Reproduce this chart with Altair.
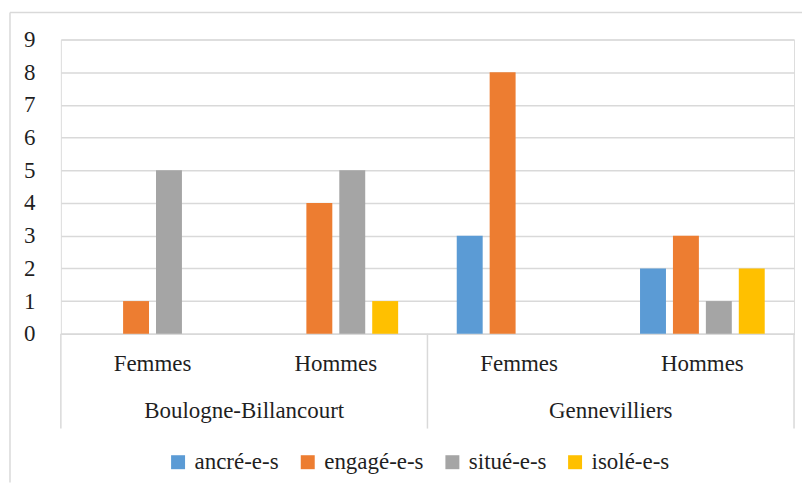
import altair as alt
import pandas as pd

# ---- data ----
cities = ["Boulogne-Billancourt", "Boulogne-Billancourt", "Gennevilliers", "Gennevilliers"]
genders = ["Femmes", "Hommes", "Femmes", "Hommes"]
series_names = ["ancré-e-s", "engagé-e-s", "situé-e-s", "isolé-e-s"]
ancre = [0, 0, 3, 2]
engage = [1, 4, 8, 3]
situe = [5, 5, 0, 1]
isole = [0, 1, 0, 2]
colors = ["#5B9BD5", "#ED7D31", "#A5A5A5", "#FFC000"]
y_ticks = list(range(10))

cats = [f"{c}|{g}" for c, g in zip(cities, genders)]
rows = []
for s, vals in zip(series_names, [ancre, engage, situe, isole]):
    for cat, v in zip(cats, vals):
        rows.append({"cat": cat, "serie": s, "value": v})
df = pd.DataFrame(rows)

W, H = 735, 295
FONT = "'Liberation Serif', serif"
FS = 23
TXT = "#1f1f1f"
LINE = "#D9D9D9"

xscale = alt.Scale(domain=cats, paddingInner=0, paddingOuter=0)

bars = alt.Chart(df).transform_filter("datum.value > 0").mark_bar().encode(
    x=alt.X("cat:N", scale=xscale, title=None,
            axis=alt.Axis(labelExpr="split(datum.value, '|')[1]", labelAngle=0,
                          labelBaseline="middle", labelPadding=30, ticks=False,
                          tickSize=0, domainColor=LINE, domainWidth=1.5,
                          labelFont=FONT, labelFontSize=FS, labelColor=TXT, grid=False)),
    xOffset=alt.XOffset("serie:N", scale=alt.Scale(domain=series_names, paddingInner=0.212, paddingOuter=0.89)),
    y=alt.Y("value:Q", scale=alt.Scale(domain=[0, 9], nice=False), title=None,
            axis=alt.Axis(values=y_ticks, domain=False, ticks=False, labelPadding=26,
                          gridColor=LINE, gridWidth=1.5, labelFont=FONT, labelFontSize=FS,
                          labelColor=TXT)),
    color=alt.Color("serie:N", scale=alt.Scale(domain=series_names, range=colors),
                    legend=alt.Legend(title=None, orient="none", legendX=106, legendY=412,
                                      direction="horizontal", columns=4, symbolType="square",
                                      symbolSize=196, symbolStrokeWidth=0, labelOffset=5,
                                      columnPadding=17, labelFont=FONT, labelFontSize=FS,
                                      labelColor=TXT)),
)

grp_df = pd.DataFrame({"cat": [cats[1], cats[3]], "label": [cities[1], cities[3]]})
groups = alt.Chart(grp_df).mark_text(font=FONT, fontSize=FS, color=TXT, align="center",
                                     baseline="middle").encode(
    x=alt.X("cat:N", scale=xscale, bandPosition=0),
    y=alt.value(372),
    text="label:N",
)

sep_df = pd.DataFrame({"cat": [cats[0], cats[2]]})
seps = alt.Chart(sep_df).mark_rule(color=LINE, strokeWidth=1.5).encode(
    x=alt.X("cat:N", scale=xscale, bandPosition=0),
    y=alt.value(H), y2=alt.value(390),
)
end_df = pd.DataFrame({"cat": [cats[3]]})
sep_end = alt.Chart(end_df).mark_rule(color=LINE, strokeWidth=1.5).encode(
    x=alt.X("cat:N", scale=xscale, bandPosition=1),
    y=alt.value(H), y2=alt.value(390),
)

one = pd.DataFrame({"k": [0]})
border_top = alt.Chart(one).mark_rule(color=LINE, strokeWidth=1.5).encode(
    x=alt.value(-51), x2=alt.value(743), y=alt.value(-27))
border_left = alt.Chart(one).mark_rule(color=LINE, strokeWidth=1.5).encode(
    x=alt.value(-51), y=alt.value(-27), y2=alt.value(444))

chart = alt.layer(bars, seps, sep_end, groups, border_top, border_left).properties(
    width=W, height=H,
    padding={"left": 1, "top": 3, "right": 0, "bottom": 0},
    background="white",
).configure_view(stroke=None).configure_legend(
    labelFont=FONT, labelFontSize=FS, labelColor=TXT
).configure(font=FONT)

chart.save("out.html", embed_options={"renderer": "svg", "actions": False})
